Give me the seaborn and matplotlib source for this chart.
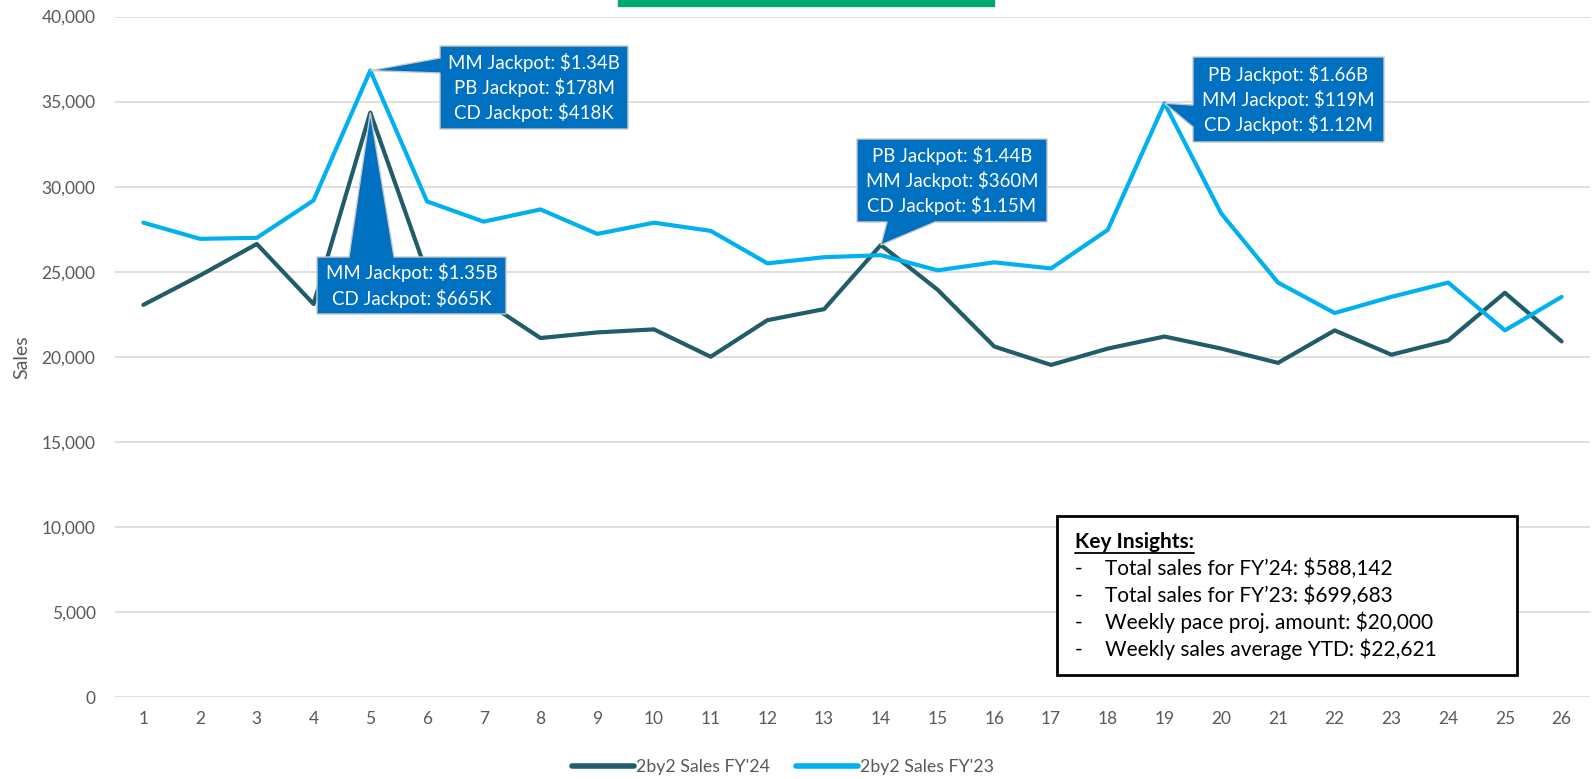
import matplotlib.patches as mpatches
import matplotlib.pyplot as plt
import matplotlib.transforms as mtransforms
import pandas as pd
import seaborn as sns
from matplotlib.lines import Line2D

# Dados semanais
weeks = list(range(1, 27))
sales_fy24 = [23050, 24780, 26630, 23100, 34350, 24900, 23300, 21100, 21430, 21610,
              20000, 22150, 22800, 26570, 23940, 20600, 19520, 20480, 21190, 20480,
              19640, 21550, 20120, 20960, 23760, 20900]
sales_fy23 = [27880, 26930, 26990, 29190, 36820, 29130, 27940, 28660, 27220, 27880,
              27400, 25490, 25850, 25970, 25080, 25550, 25190, 27460, 34900, 28420,
              24360, 22570, 23520, 24360, 21550, 23520]
series_names = ["2by2 Sales FY'24", "2by2 Sales FY'23"]
y_ticks = [0, 5000, 10000, 15000, 20000, 25000, 30000, 35000, 40000]

callout_texts = [
    "MM Jackpot: $1.34B\nPB Jackpot: $178M\nCD Jackpot: $418K",
    "MM Jackpot: $1.35B\nCD Jackpot: $665K",
    "PB Jackpot: $1.44B\nMM Jackpot: $360M\nCD Jackpot: $1.15M",
    "PB Jackpot: $1.66B\nMM Jackpot: $119M\nCD Jackpot: $1.12M",
]
callout_weeks = [5, 5, 14, 19]
callout_series = [sales_fy23, sales_fy24, sales_fy24, sales_fy23]

insights_title = "Key Insights:"
insights = [
    "Total sales for FY\u201924: $588,142",
    "Total sales for FY\u201923: $699,683",
    "Weekly pace proj. amount: $20,000",
    "Weekly sales average YTD: $22,621",
]

DARK = "#215C6A"
LIGHT = "#00B0F0"
CALLOUT = "#0070C0"
GRAY = "#595959"
W, H = 1593, 779

sns.set_theme(style="white")
plt.rcParams['font.family'] = ['Lato', 'DejaVu Sans']

fig = plt.figure(figsize=(W / 100, H / 100), dpi=100)
ax = fig.add_axes([115 / W, 1 - 697 / H, (1590 - 115) / W, (697 - 16.5) / H])

df = pd.DataFrame({
    "Week": weeks * 2,
    "Sales": sales_fy24 + sales_fy23,
    "Series": [series_names[0]] * len(weeks) + [series_names[1]] * len(weeks),
})
sns.lineplot(data=df, x="Week", y="Sales", hue="Series", hue_order=series_names,
             palette=[DARK, LIGHT], linewidth=3, ax=ax, legend=False, zorder=3)

ax.set_xlim(0.5, 26.5)
ax.set_ylim(0, 40000)
ax.set_xticks(weeks)
ax.set_yticks(y_ticks)
ax.set_yticklabels([f"{v:,}" for v in y_ticks])
ax.tick_params(axis='both', length=0, labelsize=12.5, labelcolor=GRAY)
ax.tick_params(axis='y', pad=14)
ax.tick_params(axis='x', pad=10)
ax.grid(axis='y', color="#D9D9D9", linewidth=1.2)
ax.set_axisbelow(True)
for s in ax.spines.values():
    s.set_visible(False)
ax.set_xlabel("")
ax.set_ylabel("Sales", fontsize=14, color=GRAY)
ax.yaxis.set_label_coords(30 / W, 1 - 357 / H, transform=fig.transFigure)

# Barra verde no topo
fig.add_artist(mpatches.Rectangle((618 / W, 1 - 5.5 / H), (994 - 618) / W, 6 / H,
                                  transform=fig.transFigure, color="#00A86B", zorder=5))

# Caixas de chamada (coordenadas em pixels, y a partir do topo)
callout_boxes = [
    ((440, 46, 628, 129), "left", (58, 73)),
    ((317, 257, 506, 314), "top", (349, 394)),
    ((857, 139, 1047, 222), "bottom", (887, 935)),
    ((1193, 57, 1384, 142), "left", (105, 127)),
]
ident = mtransforms.IdentityTransform()
for txt, wk, serie, (box, lado, base) in zip(callout_texts, callout_weeks,
                                              callout_series, callout_boxes):
    tip = ax.transData.transform((wk, serie[wk - 1]))
    L, T, R, B = box[0], H - box[1], box[2], H - box[3]
    if lado == "left":
        verts = [(L, T), (R, T), (R, B), (L, B), (L, H - base[1]), tip, (L, H - base[0])]
    elif lado == "top":
        verts = [(L, T), (base[0], T), tip, (base[1], T), (R, T), (R, B), (L, B)]
    else:
        verts = [(L, T), (R, T), (R, B), (base[1], B), tip, (base[0], B), (L, B)]
    fig.add_artist(mpatches.Polygon(verts, closed=True, transform=ident,
                                    facecolor=CALLOUT, edgecolor="#C9C9C9",
                                    linewidth=1, zorder=10))
    fig.text((L + R) / 2 / W, (T + B) / 2 / H, txt, ha="center", va="center",
             color="white", fontsize=13.4, linespacing=1.4, zorder=11)

# Caixa de insights
fig.add_artist(mpatches.Rectangle((1057 / W, 1 - 675 / H), (1517 - 1057) / W, (675 - 516) / H,
                                  transform=fig.transFigure, facecolor="white",
                                  edgecolor="black", linewidth=2, zorder=10))
titulo = fig.text(1075 / W, 1 - 542 / H, insights_title, ha="left", va="center",
                  fontsize=15, fontweight="bold", color="black", zorder=11)
for i, linha in enumerate(insights):
    yy = 1 - (569 + i * 26.8) / H
    fig.text(1075 / W, yy, "-", ha="left", va="center", fontsize=15, color="black", zorder=11)
    fig.text(1105 / W, yy, linha, ha="left", va="center", fontsize=15, color="black", zorder=11)

fig.canvas.draw()
bb = titulo.get_window_extent()
fig.add_artist(Line2D([bb.x0, bb.x1], [bb.y0 - 1, bb.y0 - 1], transform=ident,
                      color="black", linewidth=1.3, zorder=11))

# Legenda
handles = [Line2D([], [], color=DARK, linewidth=4, solid_capstyle="round"),
           Line2D([], [], color=LIGHT, linewidth=4, solid_capstyle="round")]
fig.legend(handles, series_names, loc="center", bbox_to_anchor=(783 / W, 1 - 767 / H),
           ncol=2, frameon=False, fontsize=12.8, handlelength=3.5, handletextpad=0.1,
           columnspacing=1.5, labelcolor=GRAY)

fig.savefig("out.png", dpi=100)
